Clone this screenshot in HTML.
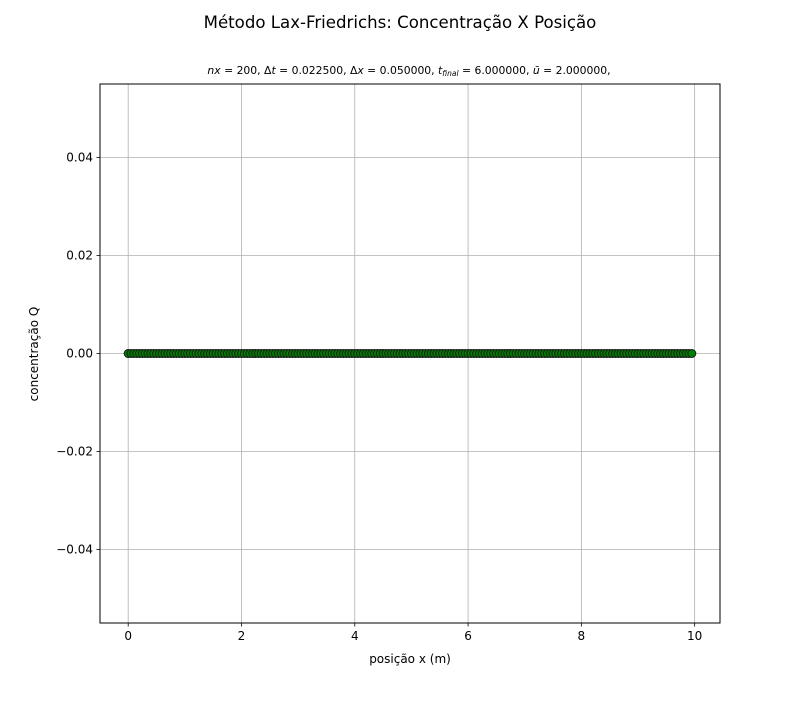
<!DOCTYPE html>
<html><head><meta charset="utf-8"><style>
body{margin:0;background:#fff}
svg text{font-family:"DejaVu Sans","Liberation Sans",sans-serif;fill:#000}
</style></head><body>
<svg id="c" width="800" height="700" xmlns="http://www.w3.org/2000/svg">
<rect width="800" height="700" fill="#fff"/>
<text x="400" y="28" font-size="16.6" text-anchor="middle">Método Lax-Friedrichs: Concentração X Posição</text>
<text x="409" y="74" font-size="10.8" text-anchor="middle"><tspan font-style="italic">nx</tspan> = 200, Δ<tspan font-style="italic">t</tspan> = 0.022500, Δ<tspan font-style="italic">x</tspan> = 0.050000, <tspan font-style="italic">t</tspan><tspan font-style="italic" font-size="7.5" dy="2">final</tspan><tspan dy="-2"> = 6.000000, </tspan><tspan font-style="italic">ū</tspan> = 2.000000,</text>
<g id="grid"></g>
<g id="marks"></g>
<rect x="100" y="84" width="620" height="539" fill="none" stroke="#000" stroke-width="1"/>
<g id="ticks"></g>
<text x="410" y="663" font-size="12" text-anchor="middle">posição x (m)</text>
<text transform="translate(38,354) rotate(-90)" font-size="12" text-anchor="middle">concentração Q</text>
</svg>
<script>
const xTicks=[0,2,4,6,8,10];
const yTicks=[-0.04,-0.02,0,0.02,0.04];
const yTickLabels=["−0.04","−0.02","0.00","0.02","0.04"];
const nx=200;
const dx=0.05;
const qValues=new Array(200).fill(0);
const L=100,R=720,T=84,B=623,xmin=-0.4975,xmax=10.4475,ymin=-0.055,ymax=0.055;
const X=v=>L+(v-xmin)/(xmax-xmin)*(R-L);
const Y=v=>B-(v-ymin)/(ymax-ymin)*(B-T);
const ns="http://www.w3.org/2000/svg";
function mk(t,a,p){const e=document.createElementNS(ns,t);for(const k in a)e.setAttribute(k,a[k]);p.appendChild(e);return e;}
const g=document.getElementById('grid'),tk=document.getElementById('ticks'),m=document.getElementById('marks');
xTicks.forEach(v=>{
 const l=mk('line',{x1:X(v),x2:X(v),y1:T,y2:B,stroke:'#b0b0b0','stroke-width':0.8},g);
 
 
 const t=mk('line',{x1:X(v),x2:X(v),y1:B,y2:B+3.5,stroke:'#000','stroke-width':0.8},tk);
 
 
 const s=mk('text',{x:X(v),y:B+17,'font-size':12,'text-anchor':'middle'},tk);s.textContent=String(v);
 
 
});
yTicks.forEach((v,i)=>{
 const l=mk('line',{x1:L,x2:R,y1:Y(v),y2:Y(v),stroke:'#b0b0b0','stroke-width':0.8},g);
 
 
 const t=mk('line',{x1:L-3.5,x2:L,y1:Y(v),y2:Y(v),stroke:'#000','stroke-width':0.8},tk);
 
 
 const s=mk('text',{x:L-7,y:Y(v)+4,'font-size':12,'text-anchor':'end'},tk);s.textContent=yTickLabels[i];
 
 
});
qValues.forEach((q,i)=>{
 const c=mk('circle',{cx:X(i*dx),cy:Y(q),r:4,fill:'#008000',stroke:'#1a1a1a','stroke-width':1},m);
 
 
});
</script>
</body></html>
